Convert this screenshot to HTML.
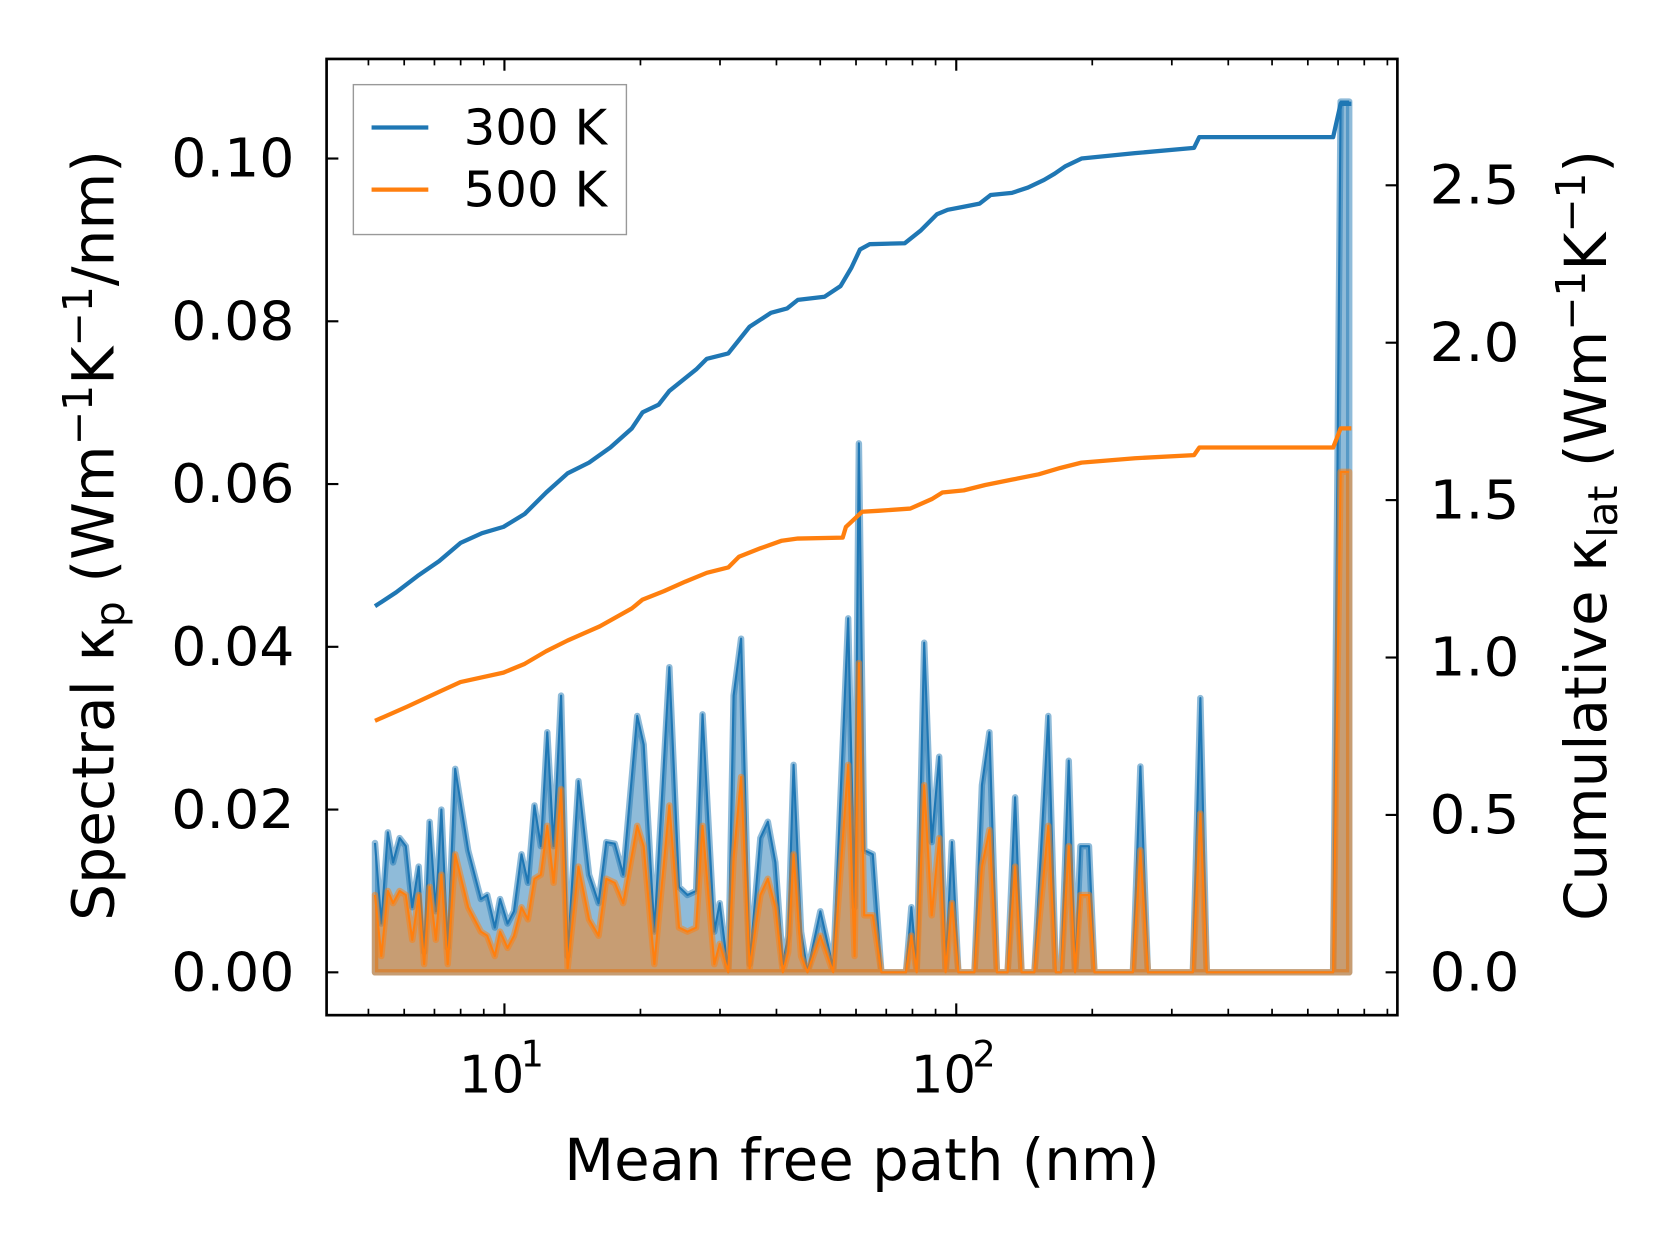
<!DOCTYPE html>
<html><head><meta charset="utf-8"><style>
html,body{margin:0;padding:0;background:#fff;}
svg{display:block;font-family:"DejaVu Sans","Liberation Sans",sans-serif;}
</style></head><body>
<svg id="chart" width="1679" height="1254" viewBox="0 0 1568 1171" xmlns="http://www.w3.org/2000/svg">
<rect width="1568" height="1171" fill="#fff"/>
<g id="plot"></g>
<g id="axes"></g>
<rect x="305" y="55" width="1000" height="893" fill="none" stroke="#000" stroke-width="2.5"/>
<g>
<rect x="330" y="79" width="255" height="140" fill="#fff" fill-opacity="0.8" stroke="#999" stroke-width="1.3"/>
<line x1="347" y1="119" x2="400" y2="119" stroke="#1f77b4" stroke-width="4"/>
<text x="433" y="135" font-size="46" textLength="134" lengthAdjust="spacingAndGlyphs">300 K</text>
<line x1="347" y1="177" x2="400" y2="177" stroke="#ff7f0e" stroke-width="4"/>
<text x="433" y="193" font-size="46" textLength="134" lengthAdjust="spacingAndGlyphs">500 K</text>
</g>
<text x="805" y="1102" font-size="54" text-anchor="middle" textLength="556" lengthAdjust="spacingAndGlyphs">Mean free path (nm)</text>
<text transform="translate(106,500) rotate(-90)" font-size="54" text-anchor="middle" textLength="720" lengthAdjust="spacingAndGlyphs">Spectral κ<tspan font-size="38" dy="10">p</tspan><tspan dy="-10"> (Wm</tspan><tspan font-size="38" dy="-20">−1</tspan><tspan dy="20">K</tspan><tspan font-size="38" dy="-20">−1</tspan><tspan dy="20">/nm)</tspan></text>
<text transform="translate(1500,500) rotate(-90)" font-size="54" text-anchor="middle" textLength="720" lengthAdjust="spacingAndGlyphs">Cumulative κ<tspan font-size="38" dy="10">lat</tspan><tspan dy="-10"> (Wm</tspan><tspan font-size="38" dy="-20">−1</tspan><tspan dy="20">K</tspan><tspan font-size="38" dy="-20">−1</tspan><tspan dy="20">)</tspan></text>
</svg>
<script>
const mfp = [5.17,5.34,5.52,5.67,5.86,6.05,6.25,6.46,6.64,6.83,7.05,7.25,7.49,7.78,8.31,8.87,9.16,9.52,9.78,10.16,10.5,10.91,11.27,11.65,12.04,12.44,12.85,13.35,13.8,14.58,15.39,16.16,16.8,17.54,18.32,19.67,20.33,21.47,23.17,24.34,25.42,26.56,27.44,29.14,29.95,31.29,32.15,33.41,34.89,36.86,38.29,39.78,41.33,42.46,43.64,45.34,46.84,50.02,53.42,57.65,59.57,60.89,62.57,65.36,68.27,77.39,79.53,81.73,84.91,88.22,91.66,94.7,97.83,101.1,109.7,114.0,118.4,123.0,129.9,135.0,139.5,148.9,159.9,166.1,170.7,177.4,183.2,188.3,196.7,202.2,246.0,255.6,265.6,334.0,347.0,358.5,682.5,709.1,740.8];
const spec300 = [0.0159,0.006,0.0172,0.0135,0.0165,0.0155,0.008,0.013,0.0025,0.0185,0.0075,0.02,0.003,0.025,0.015,0.009,0.0095,0.0055,0.009,0.006,0.0075,0.0145,0.011,0.0205,0.0155,0.0295,0.0155,0.034,0.002,0.0235,0.012,0.0085,0.016,0.0158,0.012,0.0315,0.028,0.005,0.0375,0.0105,0.0095,0.01,0.0317,0.005,0.0085,0,0.034,0.041,0.001,0.0165,0.0185,0.0135,0.001,0.0045,0.0255,0.005,0,0.0075,0.0005,0.0435,0.008,0.065,0.015,0.0145,0,0,0.008,0.0005,0.0405,0.016,0.0265,0.0005,0.016,0,0,0.023,0.0295,0,0,0.0215,0,0,0.0315,0,0,0.026,0,0.0155,0.0155,0,0,0.0253,0,0,0.0337,0,0,0.107,0.107];
const spec500 = [0.0095,0.002,0.01,0.0085,0.01,0.0095,0.004,0.0095,0.001,0.0105,0.004,0.012,0.001,0.0145,0.008,0.005,0.0045,0.002,0.005,0.003,0.0045,0.008,0.0065,0.0115,0.012,0.018,0.011,0.0225,0.0005,0.013,0.0065,0.0045,0.0115,0.011,0.0085,0.018,0.0155,0.001,0.0205,0.0055,0.005,0.0055,0.018,0.001,0.0035,0,0.014,0.024,0.0005,0.0095,0.0115,0.008,0,0.0025,0.0145,0.002,0,0.0045,0,0.0255,0.002,0.038,0.007,0.007,0,0,0.0045,0,0.023,0.007,0.0165,0,0.0085,0,0,0.013,0.0175,0,0,0.013,0,0,0.018,0,0,0.0155,0,0.0095,0.0095,0,0,0.015,0,0,0.0195,0,0,0.0615,0.0615];
const cumMfp300 = [5.17,5.76,6.42,7.17,7.99,8.92,9.95,11.09,12.37,13.8,15.39,17.16,19.14,20.22,21.94,23.17,26.56,28.05,31.29,34.89,38.9,42.23,44.6,51.1,55.47,58.6,61.21,64.28,76.96,83.55,90.65,95.72,103.9,112.7,119.1,132.8,144.1,156.4,165.2,174.5,189.3,248.7,335.9,345.1,682.5,709.1,748.9];
const cum300 = [1.163,1.207,1.259,1.306,1.364,1.395,1.415,1.456,1.524,1.585,1.619,1.667,1.728,1.779,1.803,1.847,1.915,1.949,1.966,2.051,2.095,2.109,2.136,2.146,2.18,2.238,2.296,2.313,2.316,2.357,2.408,2.422,2.432,2.442,2.469,2.476,2.493,2.517,2.537,2.561,2.585,2.602,2.619,2.653,2.653,2.759,2.759];
const cumMfp500 = [5.17,6.09,7.17,7.99,9.95,11.09,12.37,13.8,16.25,19.14,20.22,22.55,25.15,28.05,31.29,33.04,36.86,41.1,44.6,56.08,57.0,61.88,67.14,79.1,88.22,93.16,103.9,115.9,132.8,152.2,169.8,189.3,248.7,335.9,345.1,682.5,709.1,748.9];
const cum500 = [0.799,0.844,0.891,0.922,0.952,0.98,1.02,1.054,1.099,1.156,1.184,1.211,1.241,1.269,1.286,1.32,1.347,1.371,1.378,1.381,1.415,1.463,1.466,1.473,1.503,1.524,1.531,1.548,1.565,1.582,1.602,1.619,1.633,1.643,1.667,1.667,1.728,1.728];
const leftTicks = [0,0.02,0.04,0.06,0.08,0.10];
const leftTickLabels = ["0.00","0.02","0.04","0.06","0.08","0.10"];
const rightTicks = [0,0.5,1.0,1.5,2.0,2.5];
const rightTickLabels = ["0.0","0.5","1.0","1.5","2.0","2.5"];
const xMajor = [10,100];
const xMajorExp = ["1","2"];

const NS="http://www.w3.org/2000/svg";
const X0=305,X1=1305,Y0=55,Y1=948;
const xMin=4.04,xMax=947;
function sx(v){return X0+(Math.log10(v)-Math.log10(xMin))/(Math.log10(xMax)-Math.log10(xMin))*(X1-X0);}
function syL(v){return 908-v/0.02*152;}
function syR(v){return 908-v/0.5*147;}
function mk(tag,attrs,parent){const e=document.createElementNS(NS,tag);for(const k in attrs)e.setAttribute(k,attrs[k]);parent.appendChild(e);return e;}
const plot=document.getElementById('plot'), axes=document.getElementById('axes');

function spectral(vals,color,name){
  let pts=mfp.map((m,i)=>sx(m).toFixed(1)+','+syL(vals[i]).toFixed(1));
  const poly='M'+sx(mfp[0]).toFixed(1)+','+syL(0)+' L'+pts.join(' L')+' L'+sx(mfp[mfp.length-1]).toFixed(1)+','+syL(0)+' Z';
  const f=mk('path',{d:poly,fill:color,'fill-opacity':0.5,stroke:color,'stroke-opacity':0.5,'stroke-width':6,'stroke-linejoin':'round'},plot);
  
  
  const l=mk('polyline',{points:pts.join(' '),fill:'none',stroke:color,'stroke-width':2,'stroke-linejoin':'round'},plot);
  
  
}
spectral(spec300,'#1f77b4','spectral-300k');
spectral(spec500,'#ff7f0e','spectral-500k');
function cumul(xs,vals,color,name){
  const pts=xs.map((m,i)=>sx(m).toFixed(1)+','+syR(vals[i]).toFixed(1)).join(' ');
  const l=mk('polyline',{points:pts,fill:'none',stroke:color,'stroke-width':4,'stroke-linejoin':'round'},plot);
  
  
}
cumul(cumMfp300,cum300,'#1f77b4','cumulative-300k');
cumul(cumMfp500,cum500,'#ff7f0e','cumulative-500k');

leftTicks.forEach((v,i)=>{
  const y=syL(v);
  mk('line',{x1:X0,y1:y,x2:X0+11,y2:y,stroke:'#000','stroke-width':2},axes);
  const t=mk('text',{x:X0-30,y:y+17,'font-size':50,'text-anchor':'end',textLength:115,lengthAdjust:'spacingAndGlyphs'},axes);
  t.textContent=leftTickLabels[i];
  
  
});
rightTicks.forEach((v,i)=>{
  const y=syR(v);
  mk('line',{x1:X1-11,y1:y,x2:X1,y2:y,stroke:'#000','stroke-width':2},axes);
  const t=mk('text',{x:X1+30,y:y+17,'font-size':50,textLength:84,lengthAdjust:'spacingAndGlyphs'},axes);
  t.textContent=rightTickLabels[i];
  
  
});
[1,10,100].forEach(d=>{for(let k=2;k<=9;k++){const v=d*k;if(v<xMin||v>xMax)continue;const x=sx(v);
  mk('line',{x1:x,y1:Y1,x2:x,y2:Y1-6,stroke:'#000','stroke-width':1.6},axes);
  mk('line',{x1:x,y1:Y0,x2:x,y2:Y0+6,stroke:'#000','stroke-width':1.6},axes);}});
xMajor.forEach((v,i)=>{
  const x=sx(v);
  mk('line',{x1:x,y1:Y1,x2:x,y2:Y1-11,stroke:'#000','stroke-width':2},axes);
  mk('line',{x1:x,y1:Y0,x2:x,y2:Y0+11,stroke:'#000','stroke-width':2},axes);
  const t=mk('text',{x:x-12,y:1020,'font-size':48,'text-anchor':'middle'},axes);
  t.textContent='10';
  
  
  const e=mk('text',{x:x+26,y:996,'font-size':34,'text-anchor':'middle'},axes);
  e.textContent=xMajorExp[i];
  
  
});
</script>
</body></html>
